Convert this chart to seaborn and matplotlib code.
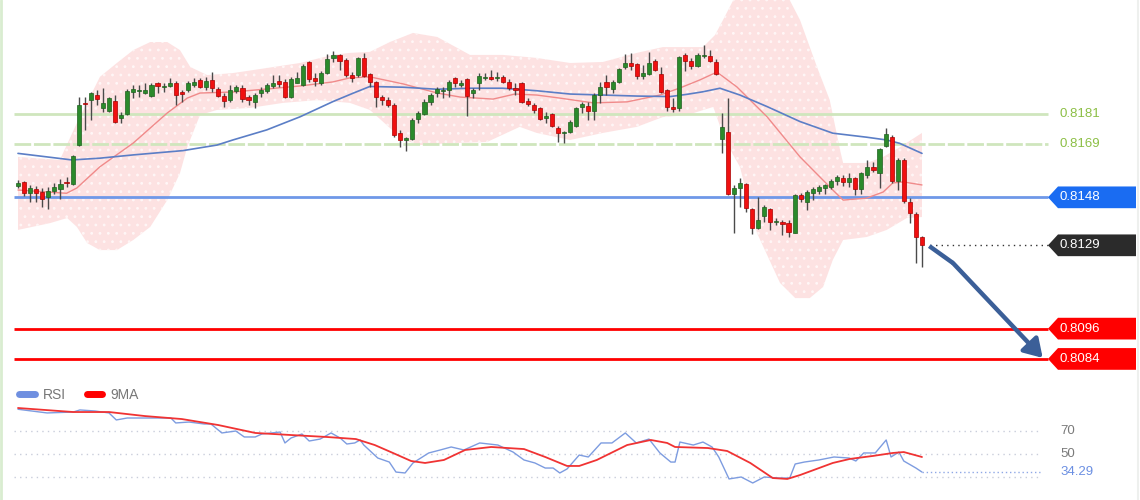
import matplotlib
matplotlib.use("Agg")
import matplotlib.pyplot as plt
from matplotlib.patches import Polygon, FancyArrowPatch
from matplotlib.lines import Line2D
import numpy as np
import pandas as pd
import seaborn as sns

# candles (one per bar)
opens = [0.81525, 0.81541, 0.81497, 0.81513, 0.81501, 0.81481, 0.81505, 0.81513, 0.81541, 0.81533,
         0.81687, 0.81854, 0.81865, 0.81885, 0.81834, 0.81822, 0.81861, 0.81794, 0.81810, 0.81897,
         0.81901, 0.81893, 0.81881, 0.81933, 0.81917, 0.81921, 0.81933, 0.81897, 0.81905, 0.81925,
         0.81945, 0.81917, 0.81945, 0.81909, 0.81881, 0.81865, 0.81901, 0.81913, 0.81877, 0.81858,
         0.81893, 0.81901, 0.81921, 0.81941, 0.81937, 0.81877, 0.81933, 0.81925, 0.82016, 0.81953,
         0.81933, 0.81972, 0.82032, 0.82044, 0.82024, 0.81964, 0.81964, 0.82032, 0.81968, 0.81937,
         0.81877, 0.81865, 0.81846, 0.81735, 0.81707, 0.81711, 0.81790, 0.81810, 0.81858, 0.81893,
         0.81901, 0.81905, 0.81953, 0.81925, 0.81949, 0.81893, 0.81933, 0.81953, 0.81957, 0.81953,
         0.81957, 0.81937, 0.81913, 0.81933, 0.81861, 0.81846, 0.81834, 0.81794, 0.81810, 0.81755,
         0.81735, 0.81739, 0.81762, 0.81838, 0.81842, 0.81822, 0.81885, 0.81937, 0.81909, 0.81937,
         0.81996, 0.82012, 0.82008, 0.81960, 0.81968, 0.82020, 0.81968, 0.81905, 0.81838, 0.81834,
         0.82044, 0.82020, 0.82000, 0.82040, 0.82040, 0.82016, 0.81711, 0.81739, 0.81493, 0.81517,
         0.81533, 0.81434, 0.81359, 0.81406, 0.81434, 0.81382, 0.81382, 0.81378, 0.81339, 0.81489,
         0.81462, 0.81497, 0.81505, 0.81517, 0.81521, 0.81545, 0.81557, 0.81541, 0.81557, 0.81513,
         0.81568, 0.81600, 0.81576, 0.81683, 0.81719, 0.81545, 0.81628, 0.81462, 0.81414, 0.81323]
highs = [0.81549, 0.81545, 0.81529, 0.81525, 0.81517, 0.81521, 0.81537, 0.81553, 0.81561, 0.81648,
         0.81877, 0.81877, 0.81897, 0.81905, 0.81913, 0.81877, 0.81885, 0.81818, 0.81909, 0.81925,
         0.81925, 0.81933, 0.81933, 0.81937, 0.81933, 0.81953, 0.81941, 0.81905, 0.81941, 0.81953,
         0.81953, 0.81957, 0.81976, 0.81917, 0.81893, 0.81925, 0.81925, 0.81925, 0.81885, 0.81893,
         0.81917, 0.81933, 0.81964, 0.81964, 0.81949, 0.81957, 0.81976, 0.82008, 0.82020, 0.81972,
         0.81980, 0.82048, 0.82060, 0.82048, 0.82032, 0.81976, 0.82036, 0.82052, 0.81972, 0.81941,
         0.81885, 0.81877, 0.81854, 0.81747, 0.81719, 0.81794, 0.81822, 0.81869, 0.81893, 0.81917,
         0.81917, 0.81945, 0.81957, 0.81945, 0.81953, 0.81913, 0.81972, 0.81972, 0.81984, 0.81976,
         0.81964, 0.81949, 0.81933, 0.81937, 0.81873, 0.81854, 0.81838, 0.81818, 0.81814, 0.81762,
         0.81743, 0.81786, 0.81838, 0.81858, 0.81858, 0.81893, 0.81937, 0.81964, 0.81945, 0.81992,
         0.82048, 0.82052, 0.82012, 0.82004, 0.82056, 0.82028, 0.81996, 0.81909, 0.81873, 0.82040,
         0.82052, 0.82032, 0.82052, 0.82083, 0.82063, 0.82028, 0.81814, 0.81873, 0.81529, 0.81557,
         0.81537, 0.81438, 0.81481, 0.81450, 0.81438, 0.81398, 0.81390, 0.81390, 0.81493, 0.81497,
         0.81509, 0.81521, 0.81529, 0.81533, 0.81553, 0.81568, 0.81568, 0.81576, 0.81561, 0.81580,
         0.81628, 0.81620, 0.81675, 0.81755, 0.81727, 0.81636, 0.81636, 0.81477, 0.81422, 0.81327]
lows = [0.81517, 0.81485, 0.81462, 0.81462, 0.81442, 0.81434, 0.81493, 0.81473, 0.81521, 0.81529,
        0.81683, 0.81747, 0.81786, 0.81846, 0.81818, 0.81818, 0.81774, 0.81774, 0.81806, 0.81873,
        0.81877, 0.81889, 0.81877, 0.81893, 0.81897, 0.81917, 0.81846, 0.81858, 0.81897, 0.81917,
        0.81913, 0.81905, 0.81897, 0.81877, 0.81838, 0.81858, 0.81893, 0.81858, 0.81846, 0.81834,
        0.81877, 0.81893, 0.81913, 0.81917, 0.81873, 0.81873, 0.81933, 0.81921, 0.81937, 0.81921,
        0.81925, 0.81968, 0.82016, 0.81984, 0.81957, 0.81937, 0.81957, 0.81957, 0.81917, 0.81838,
        0.81846, 0.81838, 0.81719, 0.81679, 0.81663, 0.81707, 0.81774, 0.81806, 0.81846, 0.81877,
        0.81873, 0.81877, 0.81917, 0.81917, 0.81802, 0.81873, 0.81905, 0.81945, 0.81945, 0.81941,
        0.81933, 0.81905, 0.81885, 0.81854, 0.81842, 0.81814, 0.81786, 0.81774, 0.81759, 0.81699,
        0.81695, 0.81735, 0.81759, 0.81814, 0.81786, 0.81786, 0.81854, 0.81885, 0.81893, 0.81933,
        0.81988, 0.81984, 0.81949, 0.81949, 0.81964, 0.81980, 0.81893, 0.81822, 0.81818, 0.81822,
        0.81980, 0.81988, 0.81996, 0.82032, 0.82016, 0.81964, 0.81656, 0.81489, 0.81339, 0.81442,
        0.81422, 0.81335, 0.81355, 0.81382, 0.81351, 0.81370, 0.81331, 0.81323, 0.81339, 0.81462,
        0.81430, 0.81469, 0.81493, 0.81493, 0.81513, 0.81529, 0.81525, 0.81521, 0.81489, 0.81493,
        0.81557, 0.81580, 0.81517, 0.81679, 0.81537, 0.81509, 0.81458, 0.81378, 0.81220, 0.81204]
closes = [0.81537, 0.81497, 0.81517, 0.81497, 0.81473, 0.81505, 0.81521, 0.81533, 0.81537, 0.81644,
          0.81846, 0.81850, 0.81893, 0.81869, 0.81854, 0.81873, 0.81778, 0.81806, 0.81901, 0.81909,
          0.81905, 0.81905, 0.81925, 0.81921, 0.81921, 0.81933, 0.81885, 0.81889, 0.81933, 0.81937,
          0.81917, 0.81941, 0.81913, 0.81881, 0.81861, 0.81905, 0.81917, 0.81869, 0.81865, 0.81885,
          0.81905, 0.81925, 0.81933, 0.81929, 0.81877, 0.81949, 0.81953, 0.82000, 0.81949, 0.81941,
          0.81972, 0.82028, 0.82044, 0.82020, 0.81964, 0.81953, 0.82032, 0.81960, 0.81937, 0.81877,
          0.81865, 0.81846, 0.81727, 0.81707, 0.81715, 0.81786, 0.81814, 0.81858, 0.81885, 0.81909,
          0.81905, 0.81937, 0.81933, 0.81933, 0.81881, 0.81905, 0.81960, 0.81957, 0.81949, 0.81957,
          0.81937, 0.81913, 0.81905, 0.81858, 0.81850, 0.81826, 0.81790, 0.81802, 0.81762, 0.81735,
          0.81739, 0.81778, 0.81834, 0.81850, 0.81822, 0.81885, 0.81917, 0.81917, 0.81937, 0.81988,
          0.82012, 0.82000, 0.81960, 0.81972, 0.82012, 0.81984, 0.81897, 0.81838, 0.81830, 0.82036,
          0.82020, 0.82000, 0.82044, 0.82044, 0.82020, 0.81968, 0.81759, 0.81493, 0.81517, 0.81537,
          0.81438, 0.81359, 0.81390, 0.81442, 0.81382, 0.81386, 0.81374, 0.81343, 0.81489, 0.81473,
          0.81501, 0.81513, 0.81521, 0.81529, 0.81545, 0.81561, 0.81541, 0.81557, 0.81513, 0.81576,
          0.81600, 0.81588, 0.81671, 0.81731, 0.81545, 0.81628, 0.81465, 0.81418, 0.81323, 0.81290]

# moving averages on price (bar position, price)
red_ma_idx = [0, 8.0, 9.7, 13.5, 19.0, 24.6, 27.9, 30.0, 35.4, 41.0, 46.5, 51.9, 54.7, 58.0, 63.5,
              69.1, 72.9, 78.3, 81.9, 85.5, 89.3, 94.8, 100.4, 105.8, 109.1, 112.4, 115.2, 118.5,
              123.5, 128.9, 134.3, 136.0, 139.9, 142.6, 144.2, 145.9, 149]
red_ma = [0.81509, 0.81496, 0.81517, 0.81601, 0.81695, 0.81814, 0.81873, 0.81893, 0.81897, 0.81909,
          0.81921, 0.81937, 0.81953, 0.81957, 0.81929, 0.81893, 0.81877, 0.81869, 0.81889, 0.81885,
          0.81873, 0.81854, 0.81858, 0.81885, 0.81913, 0.81945, 0.81976, 0.81917, 0.81798, 0.81640,
          0.81509, 0.81469, 0.81477, 0.81501, 0.81537, 0.81541, 0.81529]
blue_ma_idx = [0, 8.9, 13.5, 19.0, 27.2, 32.8, 35.4, 41.0, 46.5, 51.9, 55.2, 58.0, 63.5, 69.1, 74.5,
               79.9, 85.5, 91.0, 96.4, 102.0, 107.5, 110.3, 112.9, 115.7, 119.0, 123.5, 128.9,
               134.3, 139.9, 143.2, 145.3, 149]
blue_ma = [0.81654, 0.81628, 0.81635, 0.81648, 0.81665, 0.81687, 0.81707, 0.81747, 0.81799, 0.81859,
           0.81892, 0.81919, 0.81916, 0.81908, 0.81912, 0.81912, 0.81902, 0.81889, 0.81885, 0.81881,
           0.81879, 0.81888, 0.81898, 0.81912, 0.81885, 0.81839, 0.81780, 0.81734, 0.81718, 0.81707,
           0.81694, 0.81654]

# bollinger envelope
upper_idx = [0, 6.9, 9.7, 13.5, 16.3, 19.0, 21.8, 24.6, 26.7, 28.4, 31.2, 35.4, 41.0, 46.5, 51.9,
             54.7, 58.0, 61.3, 65.1, 69.1, 74.5, 79.9, 85.5, 91.0, 96.4, 102.0, 106.3, 112.9, 114.9,
             116.2, 117.9, 119.8, 124.0, 127.2, 128.9, 131.7, 133.8, 135.5, 136.0, 139.9, 142.6,
             145.4, 149]
upper = [0.81640, 0.81628, 0.81774, 0.81957, 0.82012, 0.82063, 0.82095, 0.82095, 0.82063, 0.81996,
         0.81964, 0.81972, 0.81992, 0.82012, 0.82044, 0.82052, 0.82056, 0.82095, 0.82131, 0.82115,
         0.82044, 0.82044, 0.82032, 0.82012, 0.82016, 0.82052, 0.82075, 0.82075, 0.82123, 0.82182,
         0.82261, 0.82301, 0.82320, 0.82261, 0.82182, 0.81996, 0.81865, 0.81667, 0.81616, 0.81616,
         0.81640, 0.81679, 0.81735]
lower_idx = [0, 5.3, 8.1, 9.7, 11.4, 13.5, 16.3, 19.0, 21.8, 24.6, 26.7, 27.9, 30.0, 32.8, 38.2,
             43.7, 49.3, 54.7, 58.0, 63.5, 66.3, 71.7, 77.3, 82.7, 85.5, 91.0, 96.4, 102.0, 106.3,
             110.3, 114.6, 116.5, 119.0, 121.8, 125.6, 128.1, 130.5, 132.7, 134.3, 136.0, 139.9,
             143.2, 146.5, 149]
lower = [0.81351, 0.81378, 0.81398, 0.81363, 0.81299, 0.81271, 0.81271, 0.81311, 0.81363, 0.81469,
         0.81576, 0.81679, 0.81806, 0.81826, 0.81834, 0.81854, 0.81865, 0.81854, 0.81826, 0.81707,
         0.81687, 0.81695, 0.81699, 0.81759, 0.81735, 0.81707, 0.81735, 0.81759, 0.81798, 0.81806,
         0.81838, 0.81707, 0.81600, 0.81339, 0.81141, 0.81081, 0.81081, 0.81125, 0.81232, 0.81311,
         0.81323, 0.81351, 0.81398, 0.81402]

# RSI panel
rsi_idx = [0, 4.8, 9.1, 10.2, 12.7, 15.0, 16.2, 18.0, 22.3, 25.2, 26.0, 28.2, 30.7, 31.8, 33.6,
           35.9, 37.3, 39.1, 40.2, 43.2, 44.0, 45.0, 46.8, 48.0, 49.8, 51.6, 53.1, 54.2, 55.5, 56.4,
           57.0, 59.3, 61.2, 62.3, 63.8, 65.1, 67.7, 69.6, 71.4, 73.5, 76.1, 79.1, 81.6, 83.4, 85.2,
           86.9, 88.2, 89.3, 90.5, 92.5, 94.0, 96.1, 97.9, 100.1, 101.9, 104.0, 105.8, 107.6, 108.3,
           109.1, 111.3, 112.9, 114.4, 115.5, 117.2, 119.2, 121.1, 123.0, 125.4, 127.2, 128.1, 129.6,
           132.0, 134.5, 137.0, 138.1, 139.4, 141.3, 143.1, 143.9, 145.2, 146.0, 148.0, 149]
rsi = [88.9, 85.7, 86.5, 88.3, 87.4, 85.7, 79.6, 81.3, 81.3, 81.3, 77.0, 77.8, 76.1, 76.1, 68.3,
       70.0, 64.8, 64.8, 67.4, 69.1, 59.6, 63.9, 67.4, 61.3, 63.0, 68.3, 63.9, 58.7, 59.6, 62.2,
       57.8, 46.5, 43.0, 34.3, 33.5, 42.2, 50.9, 53.5, 56.1, 53.5, 59.6, 57.8, 51.7, 44.8, 42.2,
       37.8, 37.8, 33.5, 37.0, 49.1, 47.4, 59.6, 59.6, 68.3, 59.6, 63.0, 50.9, 43.0, 43.0, 60.4,
       57.8, 60.4, 56.1, 47.4, 28.3, 30.0, 24.8, 30.0, 29.1, 29.1, 41.3, 43.0, 44.8, 47.4, 46.5,
       43.9, 50.9, 50.9, 62.2, 47.4, 51.7, 43.9, 37.8, 34.29]
ma9_idx = [0, 9.1, 15.0, 20.9, 27.0, 33.0, 39.1, 45.0, 50.9, 55.7, 58.8, 61.8, 64.8, 67.1, 70.2,
           73.7, 78.0, 83.4, 86.9, 90.5, 92.5, 95.4, 100.4, 104.3, 107.0, 108.3, 113.7, 116.9,
           120.7, 124.4, 126.8, 128.9, 134.3, 137.1, 140.9, 144.2, 146.0, 149]
ma9 = [90.0, 86.5, 86.5, 83.0, 80.4, 75.2, 68.3, 66.5, 64.8, 63.0, 57.8, 50.9, 43.9, 42.2, 44.8,
       53.5, 56.1, 54.3, 47.4, 39.6, 39.6, 44.8, 57.8, 62.2, 59.6, 56.1, 55.2, 52.6, 42.2, 29.1,
       28.3, 31.7, 42.2, 45.7, 48.3, 50.9, 51.7, 47.4]
rsi_levels = [70, 50, 30]

# horizontal levels
green_levels = [0.8181, 0.8169]
support = 0.8148
last_price = 0.8129
targets = [0.8096, 0.8084]
arrow_path = [(150.2, 0.81287), (154.1, 0.81220), (168.9, 0.80844)]

sns.set_style("white")
plt.rcParams['font.family'] = ['Liberation Sans', 'DejaVu Sans']
plt.rcParams['hatch.linewidth'] = 0.8

PX = 6.067  # pixels per bar
def px(x):
    return (x - 18) / PX

fig = plt.figure(figsize=(11.4, 5), dpi=100)
ax = fig.add_axes([0, 0.24, 1, 0.76])
ax_rsi = fig.add_axes([0, 0, 1, 0.24])
for a in (ax, ax_rsi):
    a.set_xlim(px(0), px(1140))
    a.axis('off')
ax.set_ylim(0.807566, 0.822614)
ax_rsi.set_ylim(10.0, 114.35)

df = pd.DataFrame({'open': opens, 'high': highs, 'low': lows, 'close': closes})
df['x'] = np.arange(len(df))
df['up'] = df.close >= df.open

# bollinger band, pink with a faint dotted texture
ax.fill(np.r_[upper_idx, lower_idx[::-1]], np.r_[upper, lower[::-1]],
        facecolor='#fde2e2', edgecolor='#fff6f6', hatch='..', lw=0, zorder=1)

# level lines
ax.hlines(green_levels[0], px(14), px(1048), color='#cfe6bd', lw=2, zorder=2)
ax.hlines(green_levels[1], px(14), px(1048), color='#cfe6bd', lw=2, linestyles=(0, (6, 1)), zorder=2)
ax.hlines(support, px(14), px(1048), color='#6f98e8', lw=2, zorder=2)
for t in targets:
    ax.hlines(t, px(14), px(1048), color='#ff0000', lw=2, zorder=2)
ax.hlines(last_price, px(930), px(1048), color='#333333', lw=1, linestyles=(0, (1, 3)), zorder=2)

# moving averages
sns.lineplot(x=red_ma_idx, y=red_ma, ax=ax, color='#f08a8a', linewidth=1, sort=False,
             estimator=None, zorder=3)
sns.lineplot(x=blue_ma_idx, y=blue_ma, ax=ax, color='#5b7ec6', linewidth=1.2, sort=False,
             estimator=None, zorder=3)

# candles
ax.vlines(df.x, df.low, df.high, color='#4a4a4a', lw=1, zorder=4)
body_h = np.maximum((df.close - df.open).abs(), 0.00004)
body_b = np.minimum(df.open, df.close)
ax.bar(df.x[df.up], body_h[df.up], bottom=body_b[df.up], width=0.68,
       color='#2b8a2b', edgecolor='#1f5f1f', lw=0.5, zorder=5)
ax.bar(df.x[~df.up], body_h[~df.up], bottom=body_b[~df.up], width=0.68,
       color='#f01010', edgecolor='#a80000', lw=0.5, zorder=5)

# forecast arrow
ax.plot([arrow_path[0][0], arrow_path[1][0]], [arrow_path[0][1], arrow_path[1][1]],
        color='#3b5f98', lw=3.2, solid_capstyle='butt', zorder=6)
ax.add_patch(FancyArrowPatch(arrow_path[1], arrow_path[2],
                             arrowstyle='-|>,head_length=4.5,head_width=2.8', mutation_scale=2.4,
                             color='#3b5f98', lw=3.2, zorder=6, shrinkA=0, shrinkB=0))

# price tags
def tag(y, face, text):
    h = 0.00043
    x0, x1, xn = px(1048), px(1136), px(1058)
    ax.add_patch(Polygon([(x0, y), (xn, y + h), (x1, y + h), (x1, y - h), (xn, y - h)],
                         closed=True, color=face, lw=0, zorder=7))
    ax.text(px(1060), y, text, color='white', fontsize=9.5, va='center', ha='left', zorder=8)

for g in green_levels:
    ax.text(px(1060), g, f'{g:.4f}', color='#8cbf45', fontsize=9.5, va='center', ha='left')
tag(support, '#1a6cf2', f'{support:.4f}')
tag(last_price, '#2b2b2b', f'{last_price:.4f}')
for t in targets:
    tag(t, '#ff0000', f'{t:.4f}')

# RSI panel
for lv in rsi_levels:
    ax_rsi.hlines(lv, px(14), px(1040), color='#c9cddb', lw=1, linestyles=(0, (1, 3)))
ax_rsi.hlines(rsi[-1], rsi_idx[-1], px(1040), color='#8fa8e6', lw=1, linestyles=(0, (1, 2)))
sns.lineplot(x=rsi_idx, y=rsi, ax=ax_rsi, color='#7d9ce0', linewidth=1, sort=False, estimator=None)
sns.lineplot(x=ma9_idx, y=ma9, ax=ax_rsi, color='#f03333', linewidth=1.3, sort=False, estimator=None)
ax_rsi.text(px(1060), 70, '70', color='#7a7a7a', fontsize=9.5, va='center')
ax_rsi.text(px(1060), 50, '50', color='#7a7a7a', fontsize=9.5, va='center')
ax_rsi.text(px(1060), rsi[-1], f'{rsi[-1]:.2f}', color='#6b8fe2', fontsize=9.5, va='center')

handles = [Line2D([], [], color='#6f8fe0', lw=5, solid_capstyle='round'),
           Line2D([], [], color='#ff0000', lw=5, solid_capstyle='round')]
leg = ax_rsi.legend(handles, ['RSI', '9MA'], loc='upper left', bbox_to_anchor=(0.006, 1.035),
                    ncol=2, frameon=False, handlelength=1.1, handletextpad=0.6,
                    columnspacing=1.5, fontsize=10)
for txt in leg.get_texts():
    txt.set_color('#777777')

# thin frame on the sides
fig.add_artist(Line2D([0.001, 0.001], [0, 1], color='#d9edd0', lw=2, transform=fig.transFigure))
fig.add_artist(Line2D([0.998, 0.998], [0, 1], color='#eef0ee', lw=1.5, transform=fig.transFigure))

fig.savefig('out.png', dpi=100, facecolor='white')
